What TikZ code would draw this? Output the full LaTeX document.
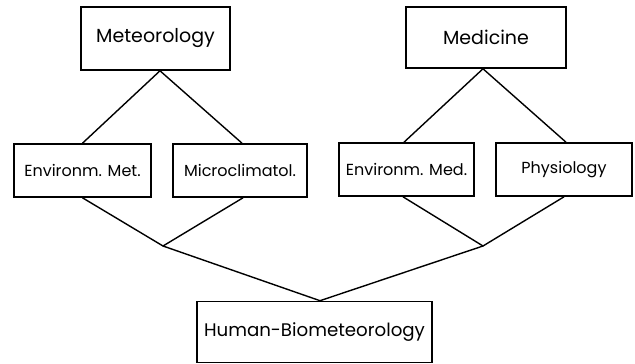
\documentclass[tikz,border=0pt]{standalone}
\usepackage{fontspec}
\setmainfont{Poppins}
\begin{document}
\begin{tikzpicture}[x=1pt,y=-1pt,
  box/.style={draw,line width=1.6pt,inner sep=0pt,rectangle},
  bigtext/.style={font=\fontsize{19}{22}\selectfont},
  humtext/.style={font=\fontsize{18.2}{22}\selectfont},
  smalltext/.style={font=\fontsize{16}{19}\selectfont},
  conn/.style={line width=1.4pt,line join=miter}]
\useasboundingbox (0,0) rectangle (635,364);
\node[box,bigtext,minimum width=149pt,minimum height=63pt] (met) at (155.5,38.5) {Meteorology};
\node[box,bigtext,minimum width=160pt,minimum height=61pt] (med) at (486,37.5) {Medicine};
\node[box,smalltext,minimum width=137pt,minimum height=53pt] (envmet) at (82.5,170.5) {Environm. Met.};
\node[box,smalltext,minimum width=134pt,minimum height=53pt] (micro) at (240,170.5) {Microclimatol.};
\node[box,smalltext,minimum width=135pt,minimum height=53pt] (envmed) at (406.5,169.5) {Environm. Med.};
\node[box,smalltext,minimum width=136pt,minimum height=53pt] (phys) at (564,169.5) {Physiology};
\node[box,humtext,minimum width=235pt,minimum height=61pt] (hum) at (314.5,332) {Human-Biometeorology};
\coordinate (j1) at (163,246);
\coordinate (j2) at (483,246);
\draw[conn] (envmet.north) -- ([xshift=4.5pt]met.south) -- ([xshift=2pt]micro.north);
\draw[conn] ([xshift=-2.5pt]envmed.north) -- ([xshift=-3pt]med.south) -- ([xshift=2pt]phys.north);
\draw[conn] (envmet.south) -- (j1) -- ([xshift=3pt]micro.south);
\draw[conn] ([xshift=-3.5pt]envmed.south) -- (j2) -- (phys.south);
\draw[conn] (j1) -- ([xshift=5.5pt]hum.north) -- (j2);
\end{tikzpicture}
\end{document}
